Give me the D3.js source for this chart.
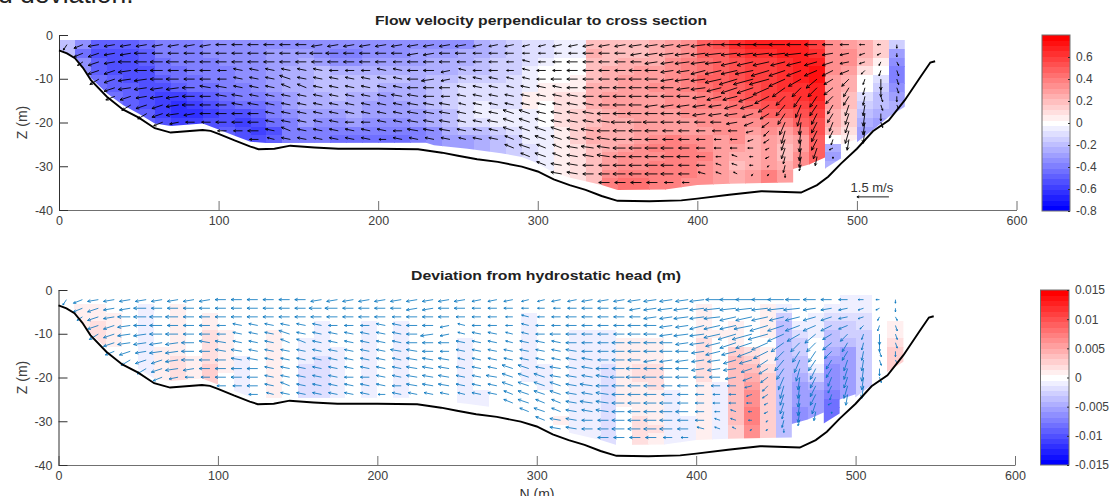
<!DOCTYPE html>
<html><head><meta charset="utf-8">
<script src="https://cdn.jsdelivr.net/npm/d3@7"></script>
<style>
html,body{margin:0;padding:0;background:#fff;overflow:hidden}
svg{display:block;font-family:"Liberation Sans",Arial,sans-serif}
.tick text{fill:#404040;font-size:12.5px}
</style></head><body>
<script>
// Column centres (m along section) and row depths (m)
const columnN=[5,15,25,35,45,55,65,75,85,95,105,115,125,135,145,155,165,175,185,195,205,215,225,235,245,255,265,275,285,295,305,315,325,335,345,355,365,375,385,395,405,415,425,435,445,455,465,475,485,495,505,515,525];
const firstRowZ=-2.2, rowStepZ=1.97;
// Bed profile
const bedN=[0,5,10,15,20,30,40,50,60,70,80,90,95,100,110,120,125,135,145,160,175,200,225,240,250,262,275,290,300,310,320,330,340,350,370,390,400,420,440,465,475,482,490,500,510,520,530,540,546,549];
const bedZ=[-3.5,-4.2,-5.3,-7.5,-10.3,-14.1,-17,-18.9,-21.3,-22.3,-22,-21.7,-21.9,-22.6,-24.1,-25.5,-26.1,-26,-25.3,-25.7,-26,-26,-26.1,-26.9,-27.6,-28.4,-29,-30.1,-31.2,-33,-34.3,-35.4,-36.8,-37.9,-38,-37.8,-37.4,-36.5,-35.7,-36,-34.3,-32.4,-29.4,-26,-22,-19.5,-14.9,-9.5,-6.3,-6];
// Lower limit of measured cells
const floorN=[0,10,20,30,40,50,60,70,90,100,110,120,130,230,235,256,277,290,298,308,319,330,340,350,380,400,420,460,460,470,480,480,490,490,500,500,510,520,530];
const floorZ=[-3.2,-5,-9.8,-13.3,-16,-18,-20.2,-20.8,-20.2,-21.6,-23,-24.4,-24.7,-24.6,-25.2,-26,-27,-27.9,-29,-31,-32.5,-33.4,-34.3,-35.4,-35.3,-34.3,-34,-33.7,-30.6,-29.6,-28,-30.5,-28.2,-25,-23.8,-24.5,-21.7,-18.7,-16.4];
// Flow velocity perpendicular to the section (cm/s), column by column, top row first
const velocity=[
[-20],[-35,-45,-35],[-50,-55,-50,-50,-45],[-50,-55,-55,-55,-50,-50,-45],[-50,-55,-55,-55,-55,-50,-50,-50],
[-45,-50,-50,-55,-55,-55,-55,-55,-50],[-40,-40,-45,-45,-50,-55,-60,-60,-60,-55],[-40,-40,-40,-45,-45,-50,-60,-65,-65,-60],[-40,-40,-40,-40,-45,-45,-55,-60,-65,-60],[-35,-35,-40,-40,-40,-45,-50,-55,-60,-55],
[-35,-35,-35,-40,-40,-40,-45,-50,-55,-55,-50],[-35,-35,-35,-35,-35,-40,-40,-45,-55,-60,-55],[-35,-35,-35,-35,-35,-35,-40,-45,-50,-55,-60,-55],[-35,-30,-30,-30,-30,-30,-35,-40,-40,-45,-55,-50],[-35,-30,-30,-25,-25,-25,-30,-30,-35,-40,-40,-40],
[-35,-30,-25,-25,-25,-25,-25,-25,-30,-30,-40,-40],[-35,-35,-30,-20,-20,-20,-25,-25,-30,-35,-40,-40],[-35,-40,-35,-25,-20,-20,-20,-25,-30,-35,-40,-45],[-35,-40,-35,-25,-20,-20,-25,-25,-25,-30,-40,-45],[-35,-35,-30,-25,-20,-20,-25,-30,-30,-35,-40,-45],
[-35,-35,-30,-25,-20,-25,-30,-30,-30,-35,-40,-45],[-35,-35,-30,-25,-20,-25,-25,-30,-30,-35,-40,-45],[-35,-30,-30,-25,-25,-25,-25,-25,-30,-30,-40,-40],[-35,-30,-25,-25,-20,-20,-20,-20,-25,-25,-35,-35],[-35,-30,-25,-25,-20,-15,-15,-15,-20,-20,-25,-30],
[-35,-25,-25,-20,-15,-10,-10,-10,-10,-10,-20,-30],[-25,-25,-20,-20,-15,-10,-10,-5,-5,-10,-20,-25],[-20,-20,-15,-15,-15,-10,-10,-10,-5,-5,-15,-20],[-15,-15,-15,-15,-10,-10,-10,-10,-5,-5,-10,-15,-15],[-10,-10,-10,-5,-5,-5,5,5,-5,-5,-5,-5,-10,-10],
[-10,-10,-5,0,0,5,5,0,0,0,-5,-5,-5,-5,-5],[-5,-5,0,0,0,5,10,10,10,10,5,5,5,5,5,5],[-5,-5,0,0,5,5,10,10,15,15,15,15,10,10,10,10],[20,25,20,20,20,25,25,25,20,20,25,25,20,20,20,20],[20,20,20,25,25,25,30,30,25,25,25,25,25,30,30,35,40],
[20,20,25,25,30,30,30,30,30,25,25,25,30,35,35,40,45],[20,20,25,30,30,30,30,30,30,30,30,30,35,35,35,40,45],[25,25,25,30,30,35,30,30,30,30,30,35,40,35,40,40,40],[30,30,35,35,35,35,35,35,30,30,30,40,40,40,40,40,40],[35,35,40,40,40,40,35,35,35,30,30,35,40,40,40,40,35],
[50,50,45,45,50,45,40,40,35,35,30,35,35,40,35,35],[55,50,50,50,50,50,45,40,35,35,35,30,30,30,30,30],[65,60,55,55,55,50,50,45,40,35,35,35,30,25,20,25],[70,65,60,60,60,55,55,50,40,35,30,25,25,25,25,30],[70,65,60,60,60,60,60,55,50,40,35,30,30,30,30,40],
[70,70,65,65,65,65,60,60,50,40,30,25,20,20,25,30],[70,70,70,70,70,65,65,60,55,50,40,30,30,35,35],[60,65,70,75,75,70,70,65,60,55,55,50,50,50],[35,35,35,35,30,30,30,30,25,25,20,0,-25,-30,-25],[30,35,35,30,25,25,20,20,15,15,10,5],
[25,25,20,10,0,0,-10,-15,-20,-25,-30],[15,15,5,0,-10,-15,-20,-20,-25,-30],[-15,-30,-35,-40,-40,-35,-30,-25]
];
// Deviation from hydrostatic head (tenths of a millimetre)
const headDeviation=[
[0],[0,10,10],[0,10,10,20,20],[0,0,10,10,10,10,0],[0,0,0,0,0,0,0,0],
[0,-10,-10,-10,-10,-10,-10,-10,-10],[0,0,0,0,0,0,10,10,10,10],[0,10,10,10,10,10,10,20,20,20],[0,0,0,0,0,0,0,10,10,10],[0,0,10,10,20,20,20,20,30,30],
[0,0,0,0,10,10,10,10,10,0,0],[0,0,0,0,0,0,0,-10,-10,-10,-10],[0,0,0,0,0,0,0,0,0,0,0,0],[0,0,0,0,10,10,10,10,10,10,10,10],[0,0,0,0,0,0,0,0,0,0,0,0],
[0,0,0,0,0,-10,-10,-10,-20,-20,-20,-20],[0,0,0,-10,-10,-10,-10,-20,-20,-20,-20,-20],[0,0,0,0,0,0,-10,-10,-10,-10,-10,-10],[0,0,0,0,0,0,0,0,0,0,0,0],[0,0,0,-10,-10,-10,-10,-10,-10,-10,-10,-10],
[0,0,0,0,0,0,0,0,0,0,0,0],[0,0,0,-10,-10,-10,-10,-10,-10,-10,-10,-10],[0,0,0,0,0,0,0,0,0,0,0,0],[0,0,0,0,0,0,0,0,0,0,0,0],[0,0,0,0,0,0,0,0,0,0,0,0],
[0,0,0,0,0,-10,-10,-10,-10,-10,-10,-10],[0,0,0,0,0,0,0,0,0,0,0,-10],[0,0,0,0,0,0,0,0,0,0,0,0],[0,0,0,0,0,0,0,0,0,0,0,0,0],[0,0,-10,-10,-10,-10,-10,-10,-10,-10,0,0,0,0],
[0,0,0,0,0,0,0,0,-10,-10,-10,0,0,0,0],[0,0,0,0,0,0,0,0,0,0,0,0,0,0,10,0],[0,0,0,0,-10,-10,-10,-10,-10,-10,-10,-10,-10,-10,-10,-10],[0,0,0,0,-10,-10,-10,-10,-10,-10,-10,-10,-10,-10,-10,-10],[0,0,0,0,-10,-10,-10,-10,-20,-20,-20,-20,-20,-20,-20,-20,-20],
[0,0,0,0,0,10,10,10,10,10,10,10,10,0,0,0,0],[0,0,0,0,0,10,10,10,20,20,10,10,10,10,20,20,20],[0,0,0,0,0,10,10,10,20,20,20,10,10,10,10,20,10],[0,0,0,0,0,0,0,0,0,0,0,-10,-10,-10,-10,-10,-10],[0,0,0,0,0,0,0,0,0,0,0,0,0,0,-10,-10,-10],
[0,10,10,10,10,20,20,20,20,20,10,10,10,10,10,10],[0,0,0,0,10,0,0,0,0,0,-10,-10,-10,-10,-10,-10],[0,0,0,10,10,10,30,35,35,35,40,40,40,35,35,30],[0,0,0,0,0,0,20,30,40,45,50,60,65,70,75,60],[0,10,10,10,5,0,10,10,20,25,25,25,30,30,30,30],
[0,-10,-30,-35,-35,-35,-35,-35,-35,-35,-35,-35,-35,-35,-35,-35],[0,0,0,-10,-20,-25,-30,-35,-40,-45,-50,-55,-55,-60,-60],[0,0,-10,-10,-10,0,0,0,-10,-30,-45,-50,-55,-55],[0,-10,-20,-30,-35,-40,-45,-55,-60,-60,-65,-70,-85,-85,-85],[-10,-10,-20,-25,-30,-40,-50,-55,-55,-55,-50,-50],
[-5,-10,-20,-20,-25,-25,-25,-25,-25,-25,-25],[0,0,0,0,0,0,0,0,0,0],[0,0,0,10,10,20,25,25]
];
// In-plane velocity, horizontal component (tenths of m/s)
const flowU=[
[-2],[-5,-5,-3],[-6,-6,-6,-6,-5],[-6,-6,-6,-6,-6,-6,-5],[-6,-6,-7,-7,-7,-7,-6,-5],
[-6,-7,-7,-7,-7,-7,-6,-6,-5],[-6,-6,-7,-7,-7,-7,-7,-6,-6,-5],[-6,-6,-7,-6,-7,-7,-7,-7,-7,-5],[-6,-6,-6,-6,-6,-7,-7,-7,-6,-5],[-6,-6,-6,-6,-6,-6,-6,-6,-6,-5],
[-6,-6,-6,-5,-5,-6,-6,-6,-6,-6,-5],[-6,-6,-6,-5,-5,-5,-6,-6,-6,-6,-5],[-6,-6,-6,-5,-5,-5,-5,-6,-6,-6,-6,-5],[-6,-6,-6,-5,-5,-5,-5,-5,-5,-5,-5,-4],[-6,-6,-6,-5,-6,-5,-5,-5,-5,-5,-5,-5],
[-6,-6,-6,-5,-5,-5,-5,-5,-5,-5,-5,-5],[-6,-7,-6,-5,-5,-5,-5,-5,-5,-5,-5,-5],[-6,-7,-6,-5,-5,-5,-5,-5,-5,-5,-5,-5],[-6,-6,-6,-5,-5,-5,-5,-5,-5,-5,-5,-5],[-6,-6,-6,-5,-5,-5,-5,-5,-5,-5,-5,-5],
[-6,-6,-6,-5,-5,-5,-5,-5,-5,-5,-5,-4],[-6,-6,-5,-5,-5,-5,-6,-5,-5,-5,-5,-5],[-6,-6,-6,-6,-6,-6,-6,-6,-6,-6,-6,-5],[-6,-6,-6,-6,-7,-6,-6,-6,-6,-6,-6,-5],[-6,-6,-6,-5,-5,-6,-5,-6,-6,-6,-6,-5],
[-6,-6,-5,-4,-4,-5,-5,-4,-5,-5,-5,-4],[-5,-5,-5,-5,-5,-5,-5,-5,-5,-5,-5,-5],[-5,-5,-5,-5,-5,-5,-5,-5,-5,-6,-5,-5],[-5,-5,-4,-4,-4,-4,-5,-5,-6,-6,-6,-5,-5],[-4,-4,-4,-4,-4,-5,-5,-5,-6,-6,-6,-6,-6,-5],
[-4,-4,-4,-5,-5,-5,-5,-5,-5,-6,-6,-6,-5,-6,-5],[-5,-4,-5,-5,-6,-5,-5,-5,-6,-6,-6,-6,-5,-5,-6,-6],[-5,-5,-6,-6,-6,-6,-6,-6,-6,-6,-6,-6,-6,-6,-6,-6],[-6,-6,-6,-6,-6,-6,-6,-6,-6,-6,-7,-6,-7,-6,-6,-6],[-6,-6,-6,-6,-6,-6,-6,-6,-7,-7,-7,-7,-7,-7,-6,-6,-6],
[-6,-6,-6,-6,-6,-7,-7,-7,-7,-8,-7,-7,-7,-7,-7,-7,-6],[-7,-6,-6,-7,-7,-7,-7,-7,-8,-8,-7,-7,-7,-7,-7,-7,-6],[-7,-7,-7,-7,-7,-7,-7,-7,-7,-8,-7,-7,-7,-7,-7,-7,-6],[-7,-8,-7,-7,-7,-7,-7,-7,-7,-7,-6,-6,-7,-7,-7,-7,-5],[-7,-8,-8,-7,-8,-7,-7,-7,-7,-7,-6,-6,-6,-7,-6,-6,-4],
[-8,-8,-8,-8,-8,-8,-7,-7,-7,-6,-5,-5,-5,-5,-5,-4],[-8,-9,-9,-9,-9,-8,-8,-7,-7,-6,-5,-4,-4,-3,-3,-3],[-9,-9,-9,-9,-10,-9,-8,-7,-7,-6,-5,-4,-4,-3,-3,-2],[-9,-9,-9,-10,-11,-9,-8,-7,-6,-5,-4,-3,-3,-2,-2,-1],[-9,-9,-9,-10,-11,-9,-8,-6,-5,-4,-3,-3,-2,-2,-1,-1],
[-9,-9,-8,-9,-9,-7,-5,-5,-4,-3,-2,-2,-2,-1,-1,0],[-8,-9,-8,-8,-7,-5,-4,-3,-2,-1,-1,-1,-1,-1,-1],[-7,-7,-7,-7,-6,-5,-4,-4,-3,-3,-3,-3,-2,-1],[-6,-6,-6,-6,-5,-5,-4,-3,-3,-2,-2,-1,-2,0,0],[-5,-5,-5,-5,-4,-3,-3,-2,-2,-2,-2,-1],
[-3,-3,-3,-2,-1,-1,-1,-1,-1,-1,-1],[-2,-2,-1,-1,0,0,1,1,0,1],[0,0,1,1,1,1,0,1]
];
// In-plane velocity, vertical component (tenths of m/s)
const flowW=[
[-3],[-2,-2,-2],[-1,-2,-2,-2,-3],[-1,-1,-1,-2,-2,-2,-2],[-1,-1,0,-1,-1,-1,-2,-3],
[-1,0,0,0,-1,-1,-1,-2,-3],[-1,0,0,0,0,-1,-1,-2,-2,-2],[-1,0,0,0,0,-1,-1,-1,-1,-1],[-1,0,0,0,0,0,0,0,-1,0],[-1,0,0,0,0,1,0,0,0,0],
[0,0,0,0,0,1,1,0,0,0,0],[0,0,0,1,1,1,1,1,0,0,0],[0,0,0,1,1,1,1,1,0,0,0,0],[0,0,0,1,1,1,1,1,1,1,1,1],[0,0,0,1,2,2,1,1,1,1,2,1],
[0,0,0,1,1,2,1,1,1,1,1,1],[-1,0,0,1,1,1,1,1,1,1,1,1],[-1,0,0,0,1,1,1,1,1,1,1,1],[-1,0,0,0,1,1,1,1,1,0,1,1],[-1,0,0,0,1,1,1,1,1,0,1,1],
[-1,0,0,1,1,1,1,1,1,1,1,0],[-1,0,0,1,1,1,1,1,1,1,0,1],[-1,-1,0,0,0,0,1,1,1,1,1,1],[-1,-1,0,0,-1,0,0,1,1,1,1,1],[-1,0,0,-1,-1,0,0,1,1,1,1,1],
[-1,0,0,1,1,1,1,1,1,1,1,1],[-1,0,0,0,1,1,1,1,1,1,1,1],[-1,0,0,0,1,1,1,1,1,1,1,1],[-1,0,0,0,1,1,1,1,2,2,2,2,2],[-1,0,1,1,1,1,1,1,2,2,2,2,2,2],
[-1,0,0,0,0,1,1,1,1,2,2,2,2,2,2],[-1,0,0,0,0,1,1,1,1,1,2,2,2,2,1,1],[-1,0,0,0,0,0,1,1,1,1,1,1,1,1,1,1],[-1,0,0,0,0,0,0,1,1,1,1,1,1,1,0,0],[-1,0,0,0,0,0,0,0,0,1,0,1,1,1,0,0,0],
[-1,0,0,0,0,0,0,0,0,0,0,0,0,0,0,0,0],[-1,-1,0,0,0,0,0,0,0,0,0,0,0,0,0,0,0],[-1,-1,-1,0,0,0,0,-1,0,0,0,0,0,0,0,0,0],[-1,-1,-1,-1,-1,0,0,-1,0,0,0,0,0,0,0,0,0],[-1,-1,-1,-1,-1,-1,0,-1,0,0,0,0,0,0,0,0,0],
[-1,-1,-1,-2,-1,-1,-1,-1,-1,0,0,0,0,0,0,1],[0,-1,-1,-2,-2,-2,-2,-1,-1,0,0,0,0,0,1,1],[0,-1,-2,-2,-3,-3,-2,-2,-1,-1,0,0,0,1,1,1],[0,-1,-2,-2,-3,-3,-3,-2,-2,-2,-1,-1,0,0,0,-1],[0,-1,-2,-3,-3,-4,-4,-4,-3,-3,-3,-2,-1,-1,-1,-1],
[0,-1,-2,-3,-4,-5,-5,-6,-6,-7,-7,-6,-6,-4,-4,-2],[0,-1,-2,-3,-4,-5,-6,-7,-7,-7,-7,-7,-7,-6,-3],[0,-1,-2,-3,-5,-5,-6,-6,-6,-6,-6,-6,-6,-5],[0,-1,-2,-3,-3,-4,-4,-5,-5,-5,-4,-3,-1,-1,0],[0,-1,-1,-2,-4,-5,-5,-6,-6,-6,-7,-6],
[0,-1,-1,-2,-3,-4,-5,-6,-7,-7,-7],[0,-1,-2,-3,-6,-5,-3,-3,-4,-3],[-2,-2,-2,-3,-3,-3,-3,-2]
];
const xTicks=[0,100,200,300,400,500,600];
const zTicks=[0,-10,-20,-30,-40];
const velocityTicks=[0.6,0.4,0.2,0,-0.2,-0.4,-0.6,-0.8];
const headTicks=[0.015,0.01,0.005,0,-0.005,-0.01,-0.015];
const titleTop="Flow velocity perpendicular to cross section";
const titleBottom="Deviation from hydrostatic head (m)";
const yLabel="Z (m)", xLabel="N (m)", scaleLabel="1.5 m/s", clippedCaption="d deviation.";
const scaleSpeed=1.5, scaleAnchorN=500, scaleAnchorZ=-37;

const svg=d3.select("body").append("svg").attr("width",1112).attr("height",496);
svg.append("text").attr("x",-2).attr("y",3).attr("font-size",26.5).attr("fill","#222").text(clippedCaption);

const pxPerMs=18, scaleBarPx=32;
function arrowPath(x0,y0,dx,dy,fixedHead){
  const len=Math.hypot(dx,dy); if(len<0.01) return "";
  const a=Math.atan2(dy,dx), tx=x0+dx, ty=y0+dy, h=fixedHead||Math.min(3.8,Math.max(1.5,len*0.3)), b=0.45;
  return `M${x0},${y0}L${tx},${ty}M${tx-h*Math.cos(a-b)},${ty-h*Math.sin(a-b)}L${tx},${ty}L${tx-h*Math.cos(a+b)},${ty-h*Math.sin(a+b)}`;
}
const levelColours=d3.range(-16,17).map(l=>{
  const t=l/16;
  return t<0?d3.interpolateRgb("#ffffff","#0000ff")(-t):d3.interpolateRgb("#ffffff","#ff0000")(t);
});

function panel(o){
  const x=d3.scaleLinear().domain([0,600]).range([o.x0,o.x1]);
  const z=d3.scaleLinear().domain([0,-40]).range([o.y0,o.y1]);
  const colour=d3.scaleQuantize().domain([-o.max,o.max]).range(levelColours);
  const g=svg.append("g");
  const clipId="floor"+o.id;
  const pts=floorN.map((n,i)=>[x(n),z(floorZ[i])]);
  g.append("clipPath").attr("id",clipId).append("path")
    .attr("d","M"+x(0)+","+z(0)+"L"+pts.map(p=>p.join(",")).join("L")+"L"+x(530)+","+z(0)+"Z");
  const cells=[];
  o.values.forEach((col,i)=>col.forEach((v,k)=>{
    cells.push({n:columnN[i],k,v,last:k===col.length-1});
  }));
  g.append("g").attr("clip-path",`url(#${clipId})`)
    .selectAll("rect").data(cells).join("rect")
    .attr("shape-rendering","crispEdges")
    .attr("x",d=>x(d.n-5)).attr("width",d=>x(d.n+5)-x(d.n-5)+0.5)
    .attr("y",d=>z(firstRowZ-rowStepZ*d.k+rowStepZ/2))
    .attr("height",d=>(d.last?z(-40):z(firstRowZ-rowStepZ*d.k-rowStepZ/2)+0.5)-z(firstRowZ-rowStepZ*d.k+rowStepZ/2))
    .attr("fill",d=>colour(d.v*o.unit));
  // axes
  const ax=g.append("g").attr("transform",`translate(0,${o.y1})`)
    .call(d3.axisBottom(x).tickValues(xTicks).tickFormat(String).tickSize(-9).tickSizeOuter(0).tickPadding(6));
  const ay=g.append("g").attr("transform",`translate(${o.x0},0)`)
    .call(d3.axisLeft(z).tickValues(zTicks).tickFormat(String).tickSize(-9).tickSizeOuter(0).tickPadding(6));
  ax.selectAll("path,line").attr("stroke","#707070");
  ay.selectAll("path,line").attr("stroke","#303030");
  [ax,ay].forEach(a=>a.attr("font-family",null).attr("font-size",null));
  // arrows
  const arrows=[];
  flowU.forEach((col,i)=>col.forEach((u,k)=>arrows.push({n:columnN[i],k,u:u/10,w:flowW[i][k]/10})));
  g.append("g").selectAll("path").data(arrows).join("path")
    .attr("fill","none").attr("stroke",o.arrow).attr("stroke-width",o.arrowWidth)
    .attr("d",d=>arrowPath(x(d.n),z(firstRowZ-rowStepZ*d.k),d.u*pxPerMs,-d.w*pxPerMs));
  // bed
  g.append("path").datum(bedN.map((n,i)=>[n,bedZ[i]]))
    .attr("fill","none").attr("stroke","#000").attr("stroke-width",1.9)
    .attr("d",d3.line().x(d=>x(d[0])).y(d=>z(d[1])));
  // titles
  g.append("text").attr("x",o.titleX).attr("y",o.y0-10).attr("text-anchor","middle")
    .attr("font-weight","bold").attr("font-size",12.5).attr("fill","#222")
    .attr("textLength",o.titleW).attr("lengthAdjust","spacingAndGlyphs").text(o.title);
  g.append("text").attr("transform",`translate(${o.x0-32},${z(-20)})rotate(-90)`)
    .attr("text-anchor","middle").attr("font-size",14).attr("fill","#404040").text(yLabel);
  // colour bar
  const cb=d3.scaleLinear().domain([-o.max,o.max]).range([o.y1+o.cbPad,o.y0]);
  const bandH=(o.y1+o.cbPad-o.y0)/levelColours.length;
  const cbg=g.append("g");
  cbg.selectAll("rect").data(levelColours).join("rect")
    .attr("x",o.cbX).attr("width",o.cbW)
    .attr("y",(c,i)=>o.y1+o.cbPad-(i+1)*bandH).attr("height",bandH+0.4).attr("fill",c=>c)
    .attr("shape-rendering","crispEdges");
  cbg.append("rect").attr("x",o.cbX).attr("y",o.y0).attr("width",o.cbW).attr("height",o.y1+o.cbPad-o.y0)
    .attr("fill","none").attr("stroke","#707070");
  const cba=g.append("g").attr("transform",`translate(${o.cbX+o.cbW},0)`)
    .call(d3.axisRight(cb).tickValues(o.ticks).tickFormat(String).tickSize(-2).tickSizeOuter(0).tickPadding(6));
  cba.select(".domain").remove();
  cba.selectAll("line").attr("stroke","#303030");
  cba.attr("font-family",null).attr("font-size",null);
  cba.selectAll("text").style("font-size","12px");
  return {x,z};
}

const velocityPanel=panel({id:"a",x0:59,x1:1016.5,y0:35,y1:210,max:0.8,unit:0.01,values:velocity,arrow:"#000",arrowWidth:0.9,
  title:titleTop,titleX:541,titleW:332,cbX:1042,cbW:28,cbPad:1,ticks:velocityTicks});
panel({id:"b",x0:58.5,x1:1015,y0:290,y1:465,max:0.015,unit:0.0001,values:headDeviation,arrow:"#0072bd",arrowWidth:0.8,
  title:titleBottom,titleX:546,titleW:270,cbX:1040.5,cbW:28.5,cbPad:0,ticks:headTicks});

// scale arrow
const sx=velocityPanel.x(scaleAnchorN), sy=velocityPanel.z(scaleAnchorZ);
svg.append("path").attr("fill","none").attr("stroke","#000").attr("stroke-width",0.9)
  .attr("d",arrowPath(sx+scaleBarPx,sy,-scaleBarPx,0,2.5));
svg.append("text").attr("x",sx+15).attr("y",sy-5).attr("text-anchor","middle").attr("font-size",13).attr("fill","#333").text(scaleLabel);
svg.append("text").attr("x",537).attr("y",499).attr("text-anchor","middle").attr("font-size",14).attr("fill","#333").text(xLabel);
</script>
</body></html>
